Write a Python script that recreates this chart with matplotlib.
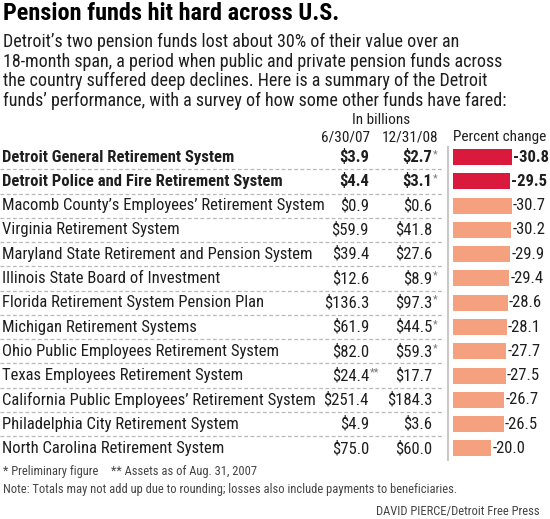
import matplotlib
matplotlib.use('Agg')
import matplotlib.pyplot as plt

plt.rcParams['font.family'] = ['Roboto Condensed', 'Liberation Sans Narrow', 'DejaVu Sans']

# data
names = ['Detroit General Retirement System',
         'Detroit Police and Fire Retirement System',
         'Macomb County\u2019s Employees\u2019 Retirement System',
         'Virginia Retirement System',
         'Maryland State Retirement and Pension System',
         'Illinois State Board of Investment',
         'Florida Retirement System Pension Plan',
         'Michigan Retirement Systems',
         'Ohio Public Employees Retirement System',
         'Texas Employees Retirement System',
         'California Public Employees\u2019 Retirement System',
         'Philadelphia City Retirement System',
         'North Carolina Retirement System']
v07 = [3.9, 4.4, 0.9, 59.9, 39.4, 12.6, 136.3, 61.9, 82.0, 24.4, 251.4, 4.9, 75.0]
v08 = [2.7, 3.1, 0.6, 41.8, 27.6, 8.9, 97.3, 44.5, 59.3, 17.7, 184.3, 3.6, 60.0]
pct = [-30.8, -29.5, -30.7, -30.2, -29.9, -29.4, -28.6, -28.1, -27.7, -27.5, -26.7, -26.5, -20.0]
marks07 = ['', '', '', '', '', '', '', '', '', '**', '', '', '']
marks08 = ['*', '*', '', '', '', '*', '*', '*', '*', '', '', '', '']
detroit = [True, True] + [False] * 11

W, H = 550, 519
fig = plt.figure(figsize=(W / 100, H / 100), dpi=100)

def fx(x):
    return x / W

def fy(y):
    return 1 - y / H

dark = '#1e1e1e'
red = '#d91a3c'
salmon = '#f5a07e'

# header text
fig.text(fx(3), fy(20), 'Pension funds hit hard across U.S.', fontsize=17.5,
         fontweight='bold', color='black', va='baseline')
sub = ['Detroit\u2019s two pension funds lost about 30% of their value over an',
       '18-month span, a period when public and private pension funds across',
       'the country suffered deep declines. Here is a summary of the Detroit',
       'funds\u2019 performance, with a survey of how some other funds have fared:']
for i, line in enumerate(sub):
    fig.text(fx(3), fy(47 + 19.7 * i), line, fontsize=13, color=dark, va='baseline')

fig.text(fx(381), fy(124), 'In billions', fontsize=11, color=dark, ha='center', va='baseline')
fig.text(fx(370), fy(141), '6/30/07', fontsize=11, color=dark, ha='right', va='baseline')
fig.text(fx(438), fy(141), '12/31/08', fontsize=11, color=dark, ha='right', va='baseline')
fig.text(fx(453), fy(141), 'Percent change', fontsize=11, color=dark, ha='left', va='baseline')

# table axes: rows in data units, x in pixels
n = len(names)
top, bot = 145, 460.5
ax = fig.add_axes([0, fy(bot), 1, (bot - top) / H])
ax.set_xlim(0, W)
ax.set_ylim(n - 0.5, -0.5)
ax.axis('off')

for i in range(n - 1):
    ax.plot([0, 444], [i + 0.5, i + 0.5], color='#b8b8b8', lw=0.9, ls=(0, (3, 2)))
ax.plot([448, 448], [-0.4, n - 0.4], color='#c8c8c8', lw=1.5)

for i in range(n):
    w = 'bold' if detroit[i] else 'normal'
    ax.text(2, i, names[i], fontsize=12, fontweight=w, color=dark, va='center')
    ax.text(369, i, f'${v07[i]:.1f}', fontsize=12, fontweight=w, color=dark,
            ha='right', va='center')
    ax.text(432, i, f'${v08[i]:.1f}', fontsize=12, fontweight=w, color=dark,
            ha='right', va='center')
    if marks07[i]:
        ax.text(370, i - 0.12, marks07[i], fontsize=8, color='#777777', va='center')
    if marks08[i]:
        ax.text(433, i - 0.12, marks08[i], fontsize=8, color='#777777', va='center')

# bars
bx = fig.add_axes([fx(453), fy(bot), fx(96), (bot - top) / H])
bx.set_xlim(0, 50)
bx.set_ylim(n - 0.5, -0.5)
bx.axis('off')
colors = [red if d else salmon for d in detroit]
bx.barh(range(n), [-p for p in pct], height=0.66, color=colors)
for i, p in enumerate(pct):
    w = 'bold' if detroit[i] else 'normal'
    bx.text(-p + 0.6, i, f'{p:.1f}', fontsize=12, fontweight=w, color=dark,
            va='center', clip_on=False)

# footnotes
fig.text(fx(3), fy(475), '* Preliminary figure', fontsize=9, color='#444444', va='baseline')
fig.text(fx(111), fy(475), '** Assets as of Aug. 31, 2007', fontsize=9, color='#444444', va='baseline')
fig.text(fx(3), fy(493), 'Note: Totals may not add up due to rounding; losses also include payments to beneficiaries.',
         fontsize=9, color='#444444', va='baseline')
fig.text(fx(540), fy(515), 'DAVID PIERCE/Detroit Free Press', fontsize=9, color='#444444',
         ha='right', va='baseline')

fig.savefig('out.png', dpi=100)
